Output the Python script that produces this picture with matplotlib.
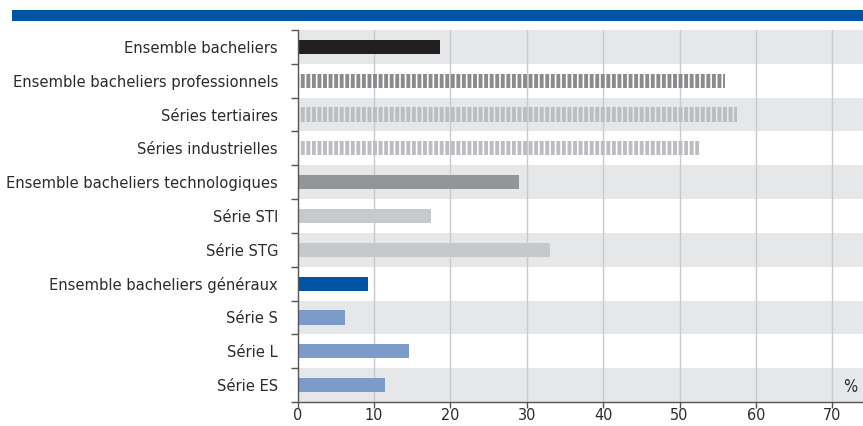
import matplotlib.pyplot as plt
from matplotlib.patches import Rectangle

# categories, top to bottom
labels = [
    "Ensemble bacheliers",
    "Ensemble bacheliers professionnels",
    "Séries tertiaires",
    "Séries industrielles",
    "Ensemble bacheliers technologiques",
    "Série STI",
    "Série STG",
    "Ensemble bacheliers généraux",
    "Série S",
    "Série L",
    "Série ES",
]
values = [18.6, 55.9, 57.5, 52.5, 29.0, 17.5, 33.0, 9.2, 6.2, 14.6, 11.4]
colors = ["#231f20", "#8a8b8f", "#bcbdc0", "#bcbdc0", "#939598", "#c7c8ca",
          "#c7c8ca", "#0054a4", "#7d9bc8", "#7d9bc8", "#7d9bc8"]
hatched = [False, True, True, True, False, False, False, False, False, False, False]
xticks = [0, 10, 20, 30, 40, 50, 60, 70]

plt.rcParams['font.family'] = ["DejaVu Sans"]
plt.rcParams['font.stretch'] = "condensed"
plt.rcParams['hatch.linewidth'] = 2.8

fig = plt.figure(figsize=(8.63, 4.26), dpi=100)
ax = fig.add_axes([297.5 / 863, 1 - 402 / 426, 1 - 297.5 / 863, 372 / 426])

n = len(labels)
ypos = list(range(n))
ax.set_ylim(n - 0.5, -0.5)
ax.set_xlim(0, 74)

# alternating background bands
for i in range(0, n, 2):
    ax.axhspan(i - 0.5, i + 0.5, color="#e6e7e8", zorder=0, lw=0)

for x in xticks[1:]:
    ax.axvline(x, color="#c9cacc", lw=1, zorder=1)

for y, v, c, h in zip(ypos, values, colors, hatched):
    if h:
        ax.barh(y, v, height=0.42, facecolor="none", edgecolor=c, hatch="|||",
                lw=0, zorder=2)
    else:
        ax.barh(y, v, height=0.42, color=c, lw=0, zorder=2)

ax.set_yticks(ypos)
ax.set_yticklabels(labels, fontsize=11.8, color="#2b2b2b")
ax.tick_params(axis="y", length=0, pad=14)
ax.set_yticks([i - 0.5 for i in range(n + 1)], minor=True)
ax.tick_params(axis="y", which="minor", length=5, color="#555555", width=1)

ax.set_xticks(xticks)
ax.set_xticklabels([str(t) for t in xticks], fontsize=11.5, color="#2b2b2b")
ax.tick_params(axis="x", length=4, color="#555555", width=1, pad=0.5)

for s in ["top", "right"]:
    ax.spines[s].set_visible(False)
for s in ["left", "bottom"]:
    ax.spines[s].set_color("#555555")
    ax.spines[s].set_linewidth(1)

ax.text(0.99, 0.04, "%", transform=ax.transAxes, ha="right", va="center",
        fontsize=12, color="#2b2b2b")

# blue band at the top
fig.patches.append(Rectangle((12 / 863, 1 - 20.5 / 426), 1, 10.5 / 426,
                             transform=fig.transFigure, color="#0054a4", lw=0))

fig.savefig("out.png", dpi=100)
